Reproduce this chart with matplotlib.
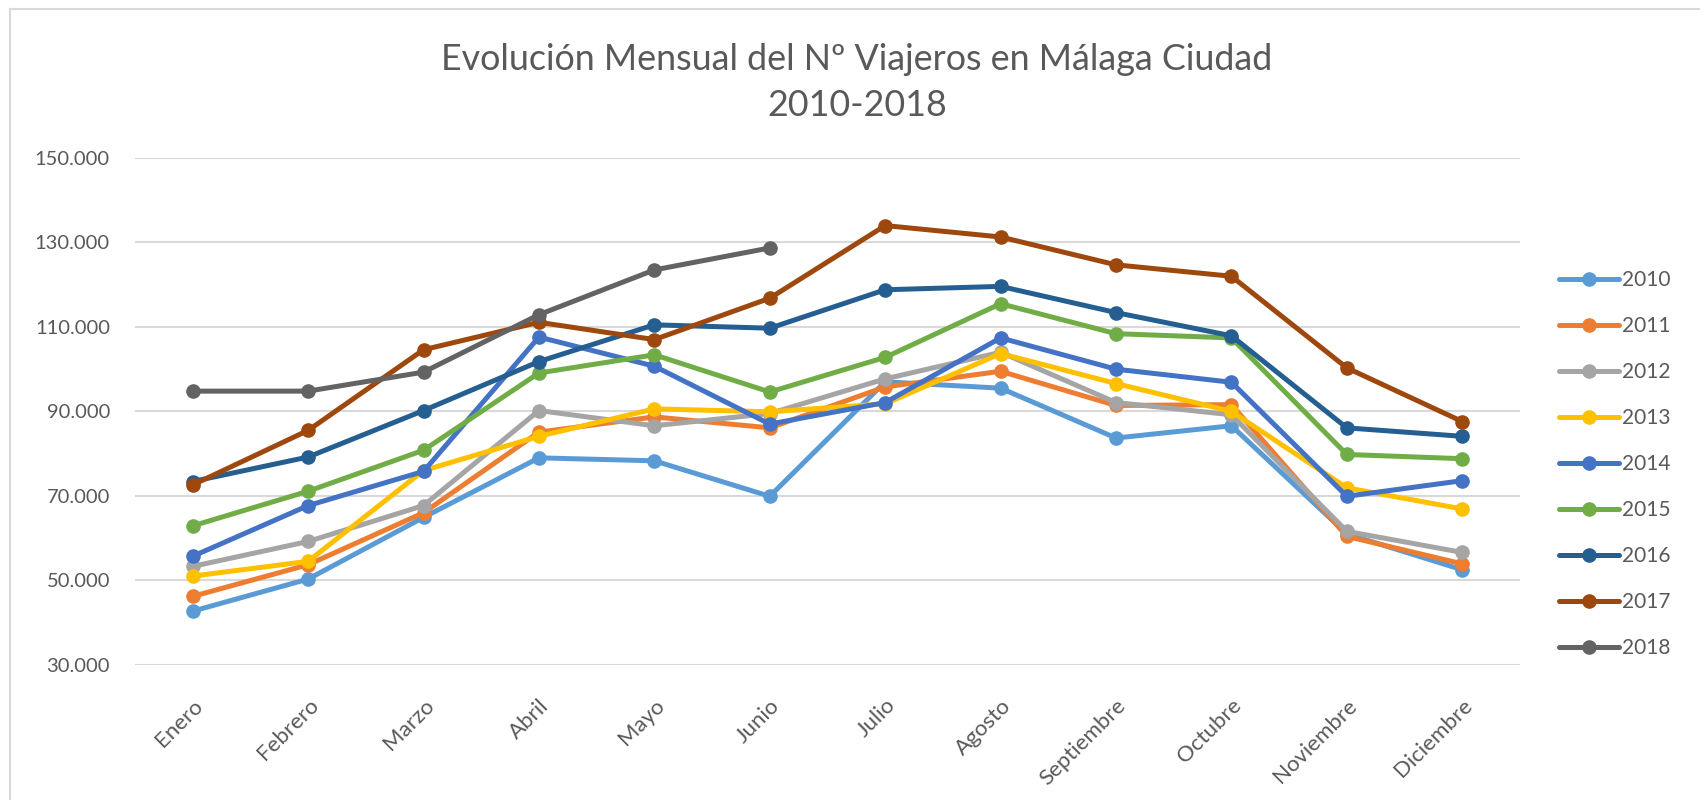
import numpy as np
import matplotlib
matplotlib.use('Agg')
import matplotlib.pyplot as plt
from matplotlib.ticker import FuncFormatter
from matplotlib.lines import Line2D

plt.rcParams['font.family'] = ['Lato', 'DejaVu Sans']

months = ['Enero', 'Febrero', 'Marzo', 'Abril', 'Mayo', 'Junio', 'Julio',
          'Agosto', 'Septiembre', 'Octubre', 'Noviembre', 'Diciembre']

v2010 = [42700, 50300, 64900, 79000, 78300, 69900, 97000, 95500, 83700, 86600, 61000, 52500]
v2011 = [46200, 53700, 66000, 85100, 88700, 86100, 95800, 99500, 91400, 91600, 60400, 53900]
v2012 = [53300, 59200, 67700, 90200, 86600, 89500, 97700, 104000, 92100, 89200, 61600, 56600]
v2013 = [51000, 54500, 76000, 84100, 90600, 89900, 91800, 103700, 96600, 90000, 71900, 66900]
v2014 = [55700, 67700, 75800, 107600, 100700, 87000, 92100, 107400, 100000, 96900, 69900, 73600]
v2015 = [62900, 71100, 80800, 99100, 103400, 94600, 102800, 115500, 108400, 107400, 79800, 78800]
v2016 = [73400, 79200, 90200, 101800, 110500, 109700, 118800, 119600, 113400, 107900, 86100, 84100]
v2017 = [72600, 85500, 104600, 111100, 107000, 116800, 134000, 131300, 124700, 122000, 100300, 87600]
v2018 = [94800, 94800, 99300, 112900, 123500, 128700]

yticks = [30000, 50000, 70000, 90000, 110000, 130000, 150000]

series = {
    '2010': (v2010, '#5B9BD5'),
    '2011': (v2011, '#ED7D31'),
    '2012': (v2012, '#A5A5A5'),
    '2013': (v2013, '#FFC000'),
    '2014': (v2014, '#4472C4'),
    '2015': (v2015, '#70AD47'),
    '2016': (v2016, '#255E91'),
    '2017': (v2017, '#9E480E'),
    '2018': (v2018, '#636363'),
}

text_color = '#595959'

fig = plt.figure(figsize=(17, 8), dpi=100)
ax = fig.add_axes([0.0794, 0.169, 0.8147, 0.6335])

x = np.arange(len(months))
for name, (vals, color) in series.items():
    ax.plot(x[:len(vals)], vals, color=color, linewidth=3.6, marker='o',
            markersize=9.5, label=name, solid_capstyle='round')

ax.set_xlim(-0.5, len(months) - 0.5)
ax.set_ylim(yticks[0], yticks[-1])
ax.set_yticks(yticks)
ax.yaxis.set_major_formatter(FuncFormatter(lambda v, p: f'{v:,.0f}'.replace(',', '.')))
ax.set_xticks(x)
ax.set_xticklabels(months, rotation=45, ha='right', va='top', rotation_mode='anchor')
ax.tick_params(axis='both', length=0, colors=text_color, labelsize=14.5)
ax.tick_params(axis='x', pad=22, labelsize=16)
ax.tick_params(axis='y', pad=18)
ax.grid(axis='y', color='#D9D9D9', linewidth=1.5)
ax.set_axisbelow(True)
for s in ax.spines.values():
    s.set_visible(False)

# two-line title
fig.text(0.504, 0.9255, 'Evolución Mensual del Nº Viajeros en Málaga Ciudad',
         ha='center', va='center', fontsize=25.8, color=text_color)
fig.text(0.504, 0.8686, '2010-2018',
         ha='center', va='center', fontsize=25.8, color=text_color)

ax.legend(loc='center left', bbox_to_anchor=(0.917, 0.42), bbox_transform=fig.transFigure,
          frameon=False, fontsize=15, labelspacing=1.25, handlelength=2.9,
          handletextpad=0.15, borderpad=0, borderaxespad=0, labelcolor=text_color)

# chart frame (only the left and top edges are visible in the original)
fig.add_artist(Line2D([0.006, 0.006], [0, 0.989], color='#D9D9D9', linewidth=1.5,
                      transform=fig.transFigure))
fig.add_artist(Line2D([0.006, 1], [0.989, 0.989], color='#D9D9D9', linewidth=1.5,
                      transform=fig.transFigure))

fig.savefig('out.png', dpi=100, facecolor='white')
